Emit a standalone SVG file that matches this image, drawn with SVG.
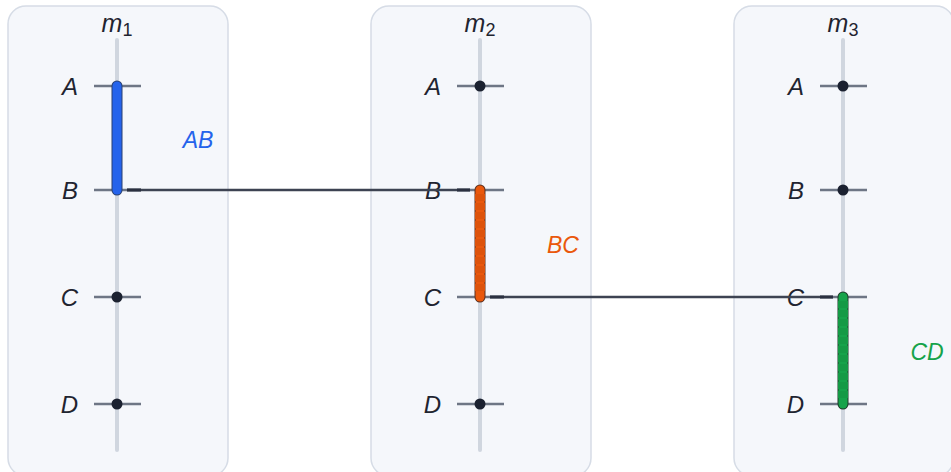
<svg xmlns="http://www.w3.org/2000/svg" width="951" height="472" viewBox="0 0 951 472">
<style>
.panel{fill:#f5f7fb;stroke:#d6dce6;stroke-width:1.5}
.axis{stroke:#d0d6df;stroke-width:4;stroke-linecap:round}
.tick{stroke:#6e7685;stroke-width:2.5}
.dot{fill:#1b2130}
.lbl{font-family:"Liberation Sans",Arial,sans-serif;font-style:italic;font-size:24px;fill:#1f2430;text-anchor:end}
.ttl{font-family:"Liberation Sans",Arial,sans-serif;font-size:25px;fill:#1f2430;text-anchor:middle}
.conn{stroke:#3d4352;stroke-width:2.5;fill:none}
.seglbl{font-family:"Liberation Sans",Arial,sans-serif;font-style:italic;font-size:23px}
</style>
<g id="m1">
<rect class="panel" x="8" y="6" width="220" height="470" rx="18"/>
<text class="ttl" x="117" y="32"><tspan font-style="italic">m</tspan><tspan font-size="18" dy="4">1</tspan></text>
<line class="axis" x1="117" y1="40" x2="117" y2="450"/>
<line class="tick" x1="94" y1="86" x2="141" y2="86"/>
<line class="tick" x1="94" y1="190" x2="141" y2="190"/>
<line class="tick" x1="94" y1="297" x2="141" y2="297"/>
<line class="tick" x1="94" y1="404" x2="141" y2="404"/>
<circle class="dot" cx="117" cy="297" r="5.5"/>
<circle class="dot" cx="117" cy="404" r="5.5"/>
<text class="lbl" x="78" y="95">A</text>
<text class="lbl" x="78" y="199">B</text>
<text class="lbl" x="78" y="306">C</text>
<text class="lbl" x="78" y="413">D</text>
</g>
<g id="m2">
<rect class="panel" x="371" y="6" width="220" height="470" rx="18"/>
<text class="ttl" x="480" y="32"><tspan font-style="italic">m</tspan><tspan font-size="18" dy="4">2</tspan></text>
<line class="axis" x1="480" y1="40" x2="480" y2="450"/>
<line class="tick" x1="457" y1="86" x2="504" y2="86"/>
<line class="tick" x1="457" y1="190" x2="504" y2="190"/>
<line class="tick" x1="457" y1="297" x2="504" y2="297"/>
<line class="tick" x1="457" y1="404" x2="504" y2="404"/>
<circle class="dot" cx="480" cy="86" r="5.5"/>
<circle class="dot" cx="480" cy="404" r="5.5"/>
<text class="lbl" x="441" y="95">A</text>
<text class="lbl" x="441" y="199">B</text>
<text class="lbl" x="441" y="306">C</text>
<text class="lbl" x="441" y="413">D</text>
</g>
<g id="m3">
<rect class="panel" x="734" y="6" width="220" height="470" rx="18"/>
<text class="ttl" x="843" y="32"><tspan font-style="italic">m</tspan><tspan font-size="18" dy="4">3</tspan></text>
<line class="axis" x1="843" y1="40" x2="843" y2="450"/>
<line class="tick" x1="820" y1="86" x2="867" y2="86"/>
<line class="tick" x1="820" y1="190" x2="867" y2="190"/>
<line class="tick" x1="820" y1="297" x2="867" y2="297"/>
<line class="tick" x1="820" y1="404" x2="867" y2="404"/>
<circle class="dot" cx="843" cy="86" r="5.5"/>
<circle class="dot" cx="843" cy="190" r="5.5"/>
<text class="lbl" x="804" y="95">A</text>
<text class="lbl" x="804" y="199">B</text>
<text class="lbl" x="804" y="306">C</text>
<text class="lbl" x="804" y="413">D</text>
</g>
<g id="connectors">
<line class="conn" x1="127" y1="190" x2="470" y2="190"/>
<line class="conn" x1="490" y1="297" x2="833" y2="297"/>
<line stroke="#2b3040" stroke-width="3" x1="127" y1="190" x2="141" y2="190"/>
<line stroke="#2b3040" stroke-width="3" x1="457" y1="190" x2="470" y2="190"/>
<line stroke="#2b3040" stroke-width="3" x1="490" y1="297" x2="504" y2="297"/>
<line stroke="#2b3040" stroke-width="3" x1="820" y1="297" x2="833" y2="297"/>
</g>
<g id="AB">
<line x1="117" y1="86" x2="117" y2="190" stroke="#2a4070" stroke-width="11" stroke-linecap="round"/>
<line x1="117" y1="86" x2="117" y2="190" stroke="#2563eb" stroke-width="9" stroke-linecap="round"/>
<text class="seglbl" x="198" y="148" fill="#2563eb" text-anchor="middle">AB</text>
</g>
<g id="BC">
<line x1="480" y1="190" x2="480" y2="297" stroke="#5a3020" stroke-width="11" stroke-linecap="round"/>
<line x1="480" y1="190" x2="480" y2="297" stroke="#ea580c" stroke-width="9" stroke-linecap="round"/>
<line x1="480" y1="194" x2="480" y2="293" stroke="#dd530b" stroke-width="10" stroke-dasharray="7 2"/>
<text class="seglbl" x="563" y="253" fill="#ea580c" text-anchor="middle">BC</text>
</g>
<g id="CD">
<line x1="843" y1="297" x2="843" y2="404" stroke="#1e3a2a" stroke-width="11" stroke-linecap="round"/>
<line x1="843" y1="297" x2="843" y2="404" stroke="#16a34a" stroke-width="9" stroke-linecap="round"/>
<line x1="843" y1="301" x2="843" y2="400" stroke="#159a45" stroke-width="10" stroke-dasharray="7 2"/>
<text class="seglbl" x="927" y="360" fill="#16a34a" text-anchor="middle">CD</text>
</g>
</svg>
